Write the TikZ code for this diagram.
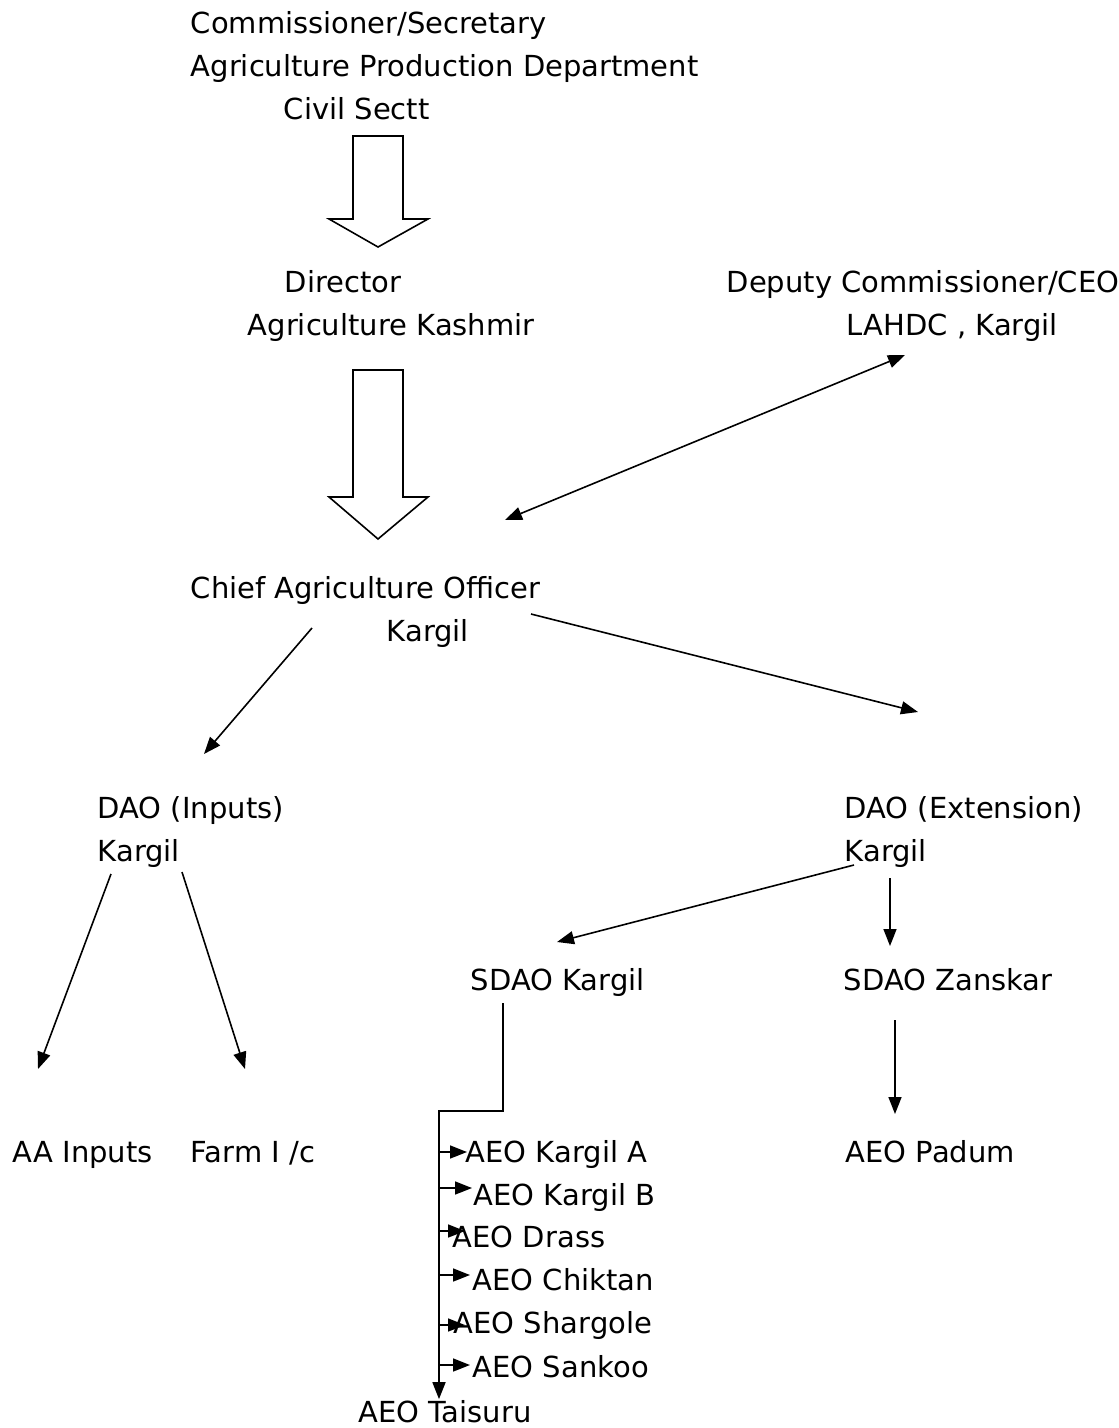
\documentclass[tikz,border=0pt]{standalone}
\usepackage{fontspec}
\setmainfont{DejaVu Sans}
\usetikzlibrary{arrows.meta}
\newcommand{\hollowdown}[3]{\draw (353,#1) -- (403,#1) -- (403,#2) -- (428,#2) -- (378,#3) -- (329,#2) -- (353,#2) -- cycle;}

\begin{document}
\begin{tikzpicture}[x=1pt,y=-1pt,line width=1.6pt,
    every node/.style={anchor=base west,inner sep=0pt,font=\fontsize{29}{35}\selectfont},
    >={Triangle[length=17pt,width=13pt]}]
      \useasboundingbox (0,0) rectangle (1119,1428);

      \node (comm)     at (190,33)   {Commissioner/Secretary};
      \node (apd)      at (190,76)   {Agriculture Production Department};
      \node (civil)    at (283,119)  {Civil Sectt};
      \node (director) at (284,292)  {Director};
      \node (agri-k)   at (247,335)  {Agriculture Kashmir};
      \node (deputy)   at (726,292)  {Deputy Commissioner/CEO};
      \node (lahdc)    at (846,335)  {LAHDC , Kargil};
      \node (cao)      at (190,598)  {Chief Agriculture Officer};
      \node (cao-k)    at (386,641)  {Kargil};
      \node (dao-in)   at (97,818)   {DAO (Inputs)};
      \node (dao-in-k) at (97,861)   {Kargil};
      \node (dao-ex)   at (844,818)  {DAO (Extension)};
      \node (dao-ex-k) at (844,861)  {Kargil};
      \node (sdao-k)   at (470,990)  {SDAO Kargil};
      \node (sdao-z)   at (843,990)  {SDAO Zanskar};
      \node (aa)       at (12,1162)  {AA Inputs};
      \node (farm)     at (190,1162) {Farm I /c};
      \node (aeo-a)    at (465,1162) {AEO Kargil A};
      \node (aeo-b)    at (473,1205) {AEO Kargil B};
      \node (aeo-dr)   at (452,1247) {AEO Drass};
      \node (aeo-ch)   at (472,1290) {AEO Chiktan};
      \node (aeo-sh)   at (453,1333) {AEO Shargole};
      \node (aeo-sa)   at (472,1377) {AEO Sankoo};
      \node (aeo-ta)   at (358,1422) {AEO Taisuru};
      \node (padum)    at (845,1162) {AEO Padum};

      \coordinate (cao-up)   at (505,520);
      \coordinate (dc-down)  at (905,355);
      \coordinate (cao-l)    at (312,628);
      \coordinate (dao-in-t) at (204,754);
      \coordinate (cao-r)    at (531,614);
      \coordinate (dao-ex-t) at (918,712);
      \coordinate (dao-in-l) at (111,874);
      \coordinate (aa-t)     at (38,1069);
      \coordinate (dao-in-r) at (182,872);
      \coordinate (farm-t)   at (245,1069);
      \coordinate (dao-ex-l) at (854,865);
      \coordinate (sdao-k-t) at (557,942);
      \coordinate (dao-ex-d) at (890,878);
      \coordinate (sdao-z-t) at (890,946);
      \coordinate (sdao-k-d) at (503,1003);
      \coordinate (bus)      at (439,1111);
      \coordinate (sdao-z-d) at (895,1020);
      \coordinate (padum-t)  at (895,1114);

      \hollowdown{136}{219}{247}
      \hollowdown{370}{497}{539}

      \draw[<->] (cao-up) -- (dc-down);
      \draw[->] (cao-l) -- (dao-in-t);
      \draw[->] (cao-r) -- (dao-ex-t);
      \draw[->] (dao-in-l) -- (aa-t);
      \draw[->] (dao-in-r) -- (farm-t);
      \draw[->] (dao-ex-l) -- (sdao-k-t);
      \draw[->] (dao-ex-d) -- (sdao-z-t);
      \draw[->] (sdao-z-d) -- (padum-t);

      \draw[->] (sdao-k-d) |- (bus) -- (bus |- aeo-ta.north);
      \foreach \n/\dx/\dy in {aeo-a/2/-10, aeo-b/-1/-17, aeo-dr/13/-16, aeo-ch/-2/-15, aeo-sh/12/-8, aeo-sa/-2/-12}{
        \coordinate (tip) at ([shift={(\dx,\dy)}]\n.base west);
        \draw[->] (bus |- tip) -- (tip);
      }
    \end{tikzpicture}
\end{document}
